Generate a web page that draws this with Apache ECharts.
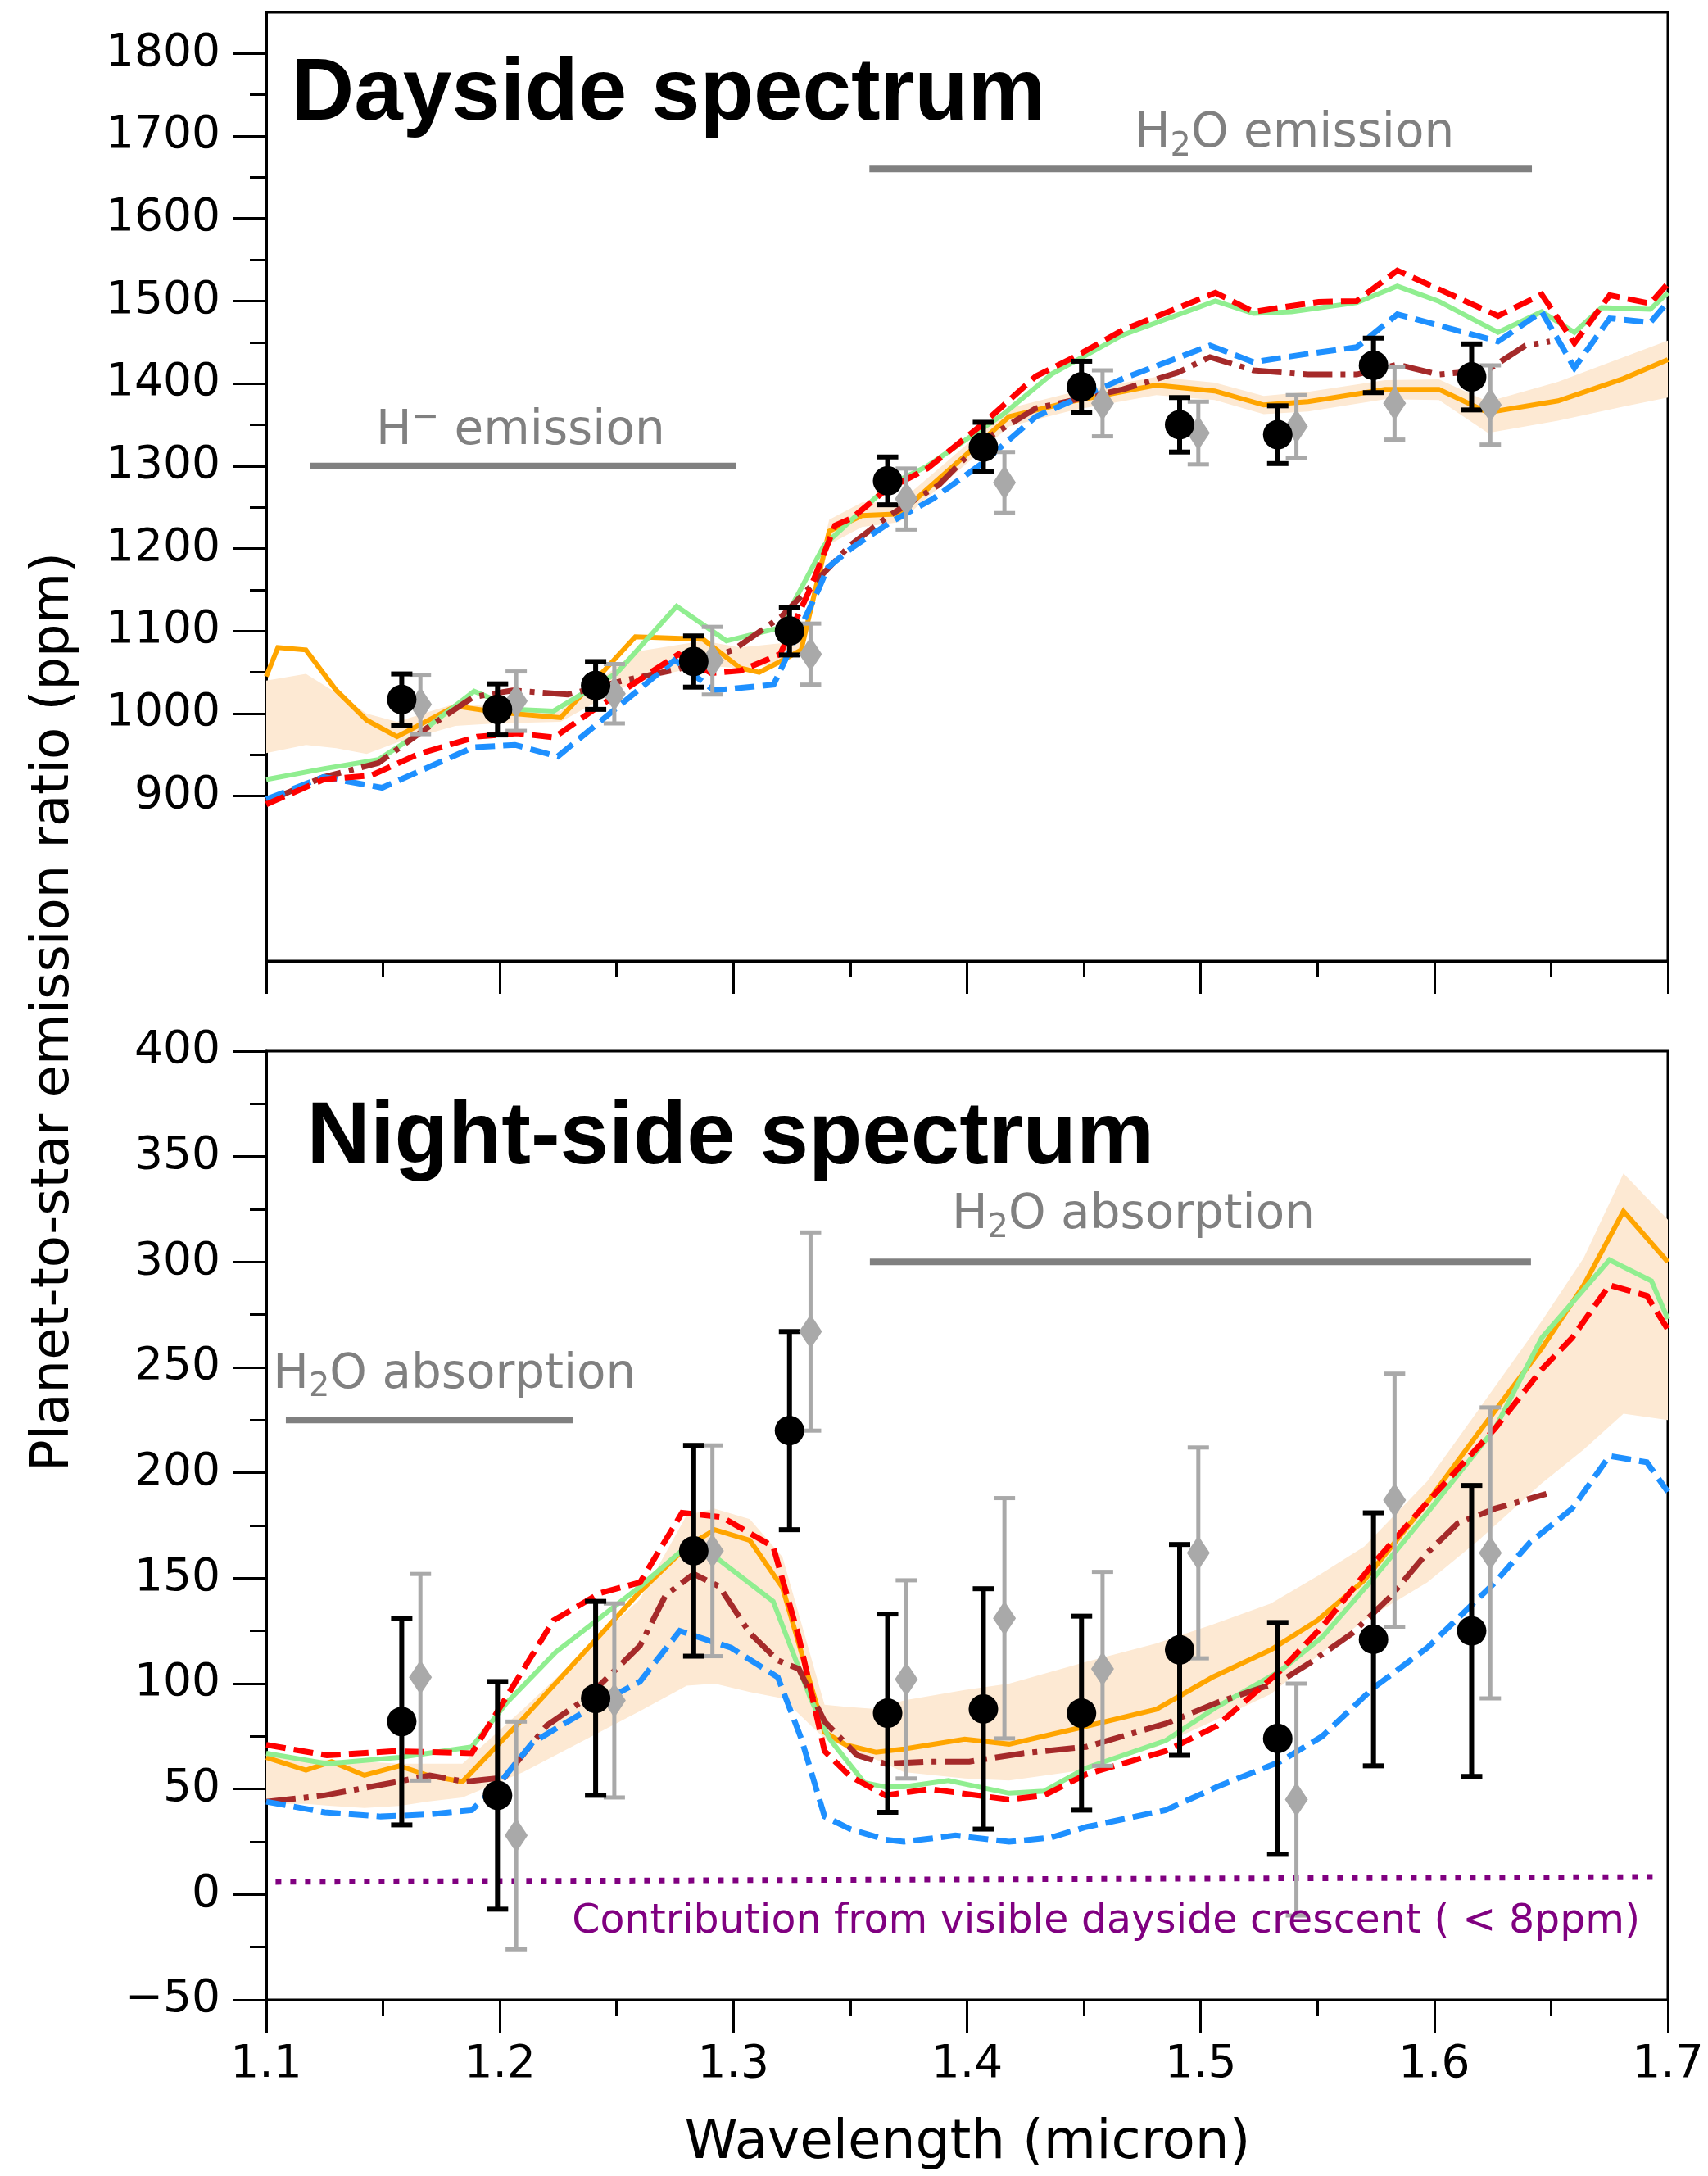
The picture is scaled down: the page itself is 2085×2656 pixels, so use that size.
<!DOCTYPE html>
<html>
<head>
<meta charset="utf-8">
<script src="https://cdn.jsdelivr.net/npm/echarts/dist/echarts.min.js"></script>
<style>
  html, body { margin: 0; padding: 0; background: #ffffff; }
  #chart { width: 2085px; height: 2656px; }
</style>
</head>
<body>
<div id="chart"></div>
<script>
// ---------- measured spectra (wavelength in micron, depth in ppm) ----------
const wavelength    = [1.158, 1.199, 1.241, 1.283, 1.324, 1.366, 1.407, 1.449, 1.491, 1.533, 1.574, 1.616];
const wavelengthAlt = [1.166, 1.207, 1.249, 1.291, 1.333, 1.374, 1.416, 1.458, 1.499, 1.541, 1.583, 1.624];

const dayMain    = [1017, 1005, 1034, 1063, 1100, 1282, 1323, 1396, 1350, 1338, 1422, 1408];
const dayMainErr = [31, 31, 29, 31, 29, 29, 30, 31, 33, 35, 33, 40];
const dayAlt     = [1011, 1015, 1024, 1064, 1072, 1260, 1280, 1376, 1340, 1348, 1376, 1374];
const dayAltErr  = [36, 36, 36, 41, 37, 37, 37, 40, 38, 38, 44, 48];

const nightMain    = [82, 47, 93, 163, 220, 86, 88, 86, 116, 74, 121, 125];
const nightMainErr = [49, 54, 46, 50, 47, 47, 57, 46, 50, 55, 60, 69];
const nightAlt     = [103, 28, 92, 163, 267, 102, 131, 107, 162, 45, 187, 162];
const nightAltErr  = [49, 54, 46, 50, 47, 47, 57, 46, 50, 55, 60, 69];

// ---------- dayside models ----------
const dayBestX = [1.100, 1.105, 1.117, 1.130, 1.143, 1.156, 1.181, 1.198, 1.226, 1.258, 1.287, 1.303, 1.311, 1.320, 1.329, 1.341, 1.355, 1.371, 1.418, 1.446, 1.481, 1.506, 1.527, 1.546, 1.579, 1.602, 1.623, 1.653, 1.681, 1.700];
const dayBestY = [1045, 1080, 1077, 1028, 992, 972, 1009, 1002, 995, 1093, 1090, 1055, 1050, 1063, 1077, 1221, 1240, 1242, 1360, 1379, 1398, 1391, 1374, 1378, 1393, 1393, 1365, 1379, 1406, 1429];

const dayRangeX  = [1.100, 1.117, 1.130, 1.143, 1.156, 1.181, 1.198, 1.226, 1.258, 1.287, 1.303, 1.320, 1.329, 1.341, 1.355, 1.371, 1.418, 1.446, 1.481, 1.506, 1.527, 1.546, 1.579, 1.602, 1.623, 1.653, 1.681, 1.700];
const dayRangeLo = [952, 962, 958, 951, 965, 985, 988, 990, 1040, 1058, 1055, 1060, 1075, 1205, 1226, 1232, 1348, 1368, 1386, 1380, 1363, 1366, 1381, 1380, 1340, 1355, 1372, 1383];
const dayRangeHi = [1040, 1048, 1025, 1000, 990, 1012, 1008, 1003, 1075, 1088, 1080, 1085, 1090, 1235, 1256, 1256, 1370, 1390, 1408, 1401, 1385, 1390, 1404, 1405, 1378, 1402, 1432, 1452];

const dayGreenX = [1.100, 1.1245, 1.148, 1.167, 1.189, 1.2075, 1.223, 1.250, 1.2757, 1.297, 1.320, 1.3388, 1.3667, 1.383, 1.4156, 1.4365, 1.4668, 1.5063, 1.5226, 1.5389, 1.5668, 1.5842, 1.6017, 1.6273, 1.646, 1.660, 1.6716, 1.6925, 1.700];
const dayGreenY = [920, 933, 944, 979, 1027, 1005, 1003, 1049, 1130, 1088, 1104, 1204, 1277, 1300, 1363, 1412, 1459, 1500, 1485, 1487, 1498, 1518, 1500, 1462, 1487, 1462, 1492, 1490, 1510];

const dayRedX = [1.100, 1.1245, 1.1449, 1.1653, 1.1903, 1.2075, 1.2232, 1.2389, 1.2765, 1.2905, 1.3031, 1.320, 1.3328, 1.3435, 1.3508, 1.3648, 1.383, 1.4063, 1.4295, 1.4459, 1.4668, 1.5063, 1.5226, 1.5505, 1.5668, 1.5842, 1.6273, 1.646, 1.660, 1.6751, 1.6925, 1.700];
const dayRedY = [890, 920, 925, 951, 972, 976, 971, 1002, 1072, 1049, 1052, 1072, 1151, 1228, 1237, 1270, 1297, 1350, 1409, 1432, 1465, 1510, 1487, 1499, 1500, 1537, 1482, 1508, 1449, 1507, 1497, 1521];

const dayBlueX = [1.100, 1.1245, 1.1496, 1.1887, 1.2065, 1.2248, 1.2749, 1.2916, 1.3172, 1.3365, 1.3404, 1.3508, 1.3667, 1.3853, 1.4063, 1.4295, 1.4668, 1.504, 1.5226, 1.5459, 1.5668, 1.5842, 1.6273, 1.646, 1.660, 1.6751, 1.6925, 1.700];
const dayBlueY = [896, 923, 910, 959, 962, 948, 1065, 1028, 1035, 1151, 1177, 1201, 1231, 1260, 1303, 1360, 1406, 1446, 1426, 1436, 1444, 1484, 1451, 1487, 1419, 1479, 1474, 1499];

const dayBrownX = [1.100, 1.1245, 1.148, 1.167, 1.1887, 1.2053, 1.2291, 1.2545, 1.2765, 1.2999, 1.3203, 1.3365, 1.350, 1.3667, 1.3879, 1.4063, 1.4295, 1.4668, 1.4899, 1.504, 1.5226, 1.5459, 1.5668, 1.5842, 1.6017, 1.6227, 1.639, 1.6495];
const dayBrownY = [893, 923, 940, 979, 1020, 1028, 1023, 1041, 1054, 1077, 1117, 1164, 1204, 1240, 1277, 1330, 1370, 1393, 1413, 1432, 1416, 1411, 1411, 1423, 1411, 1416, 1446, 1451];

// ---------- night-side models ----------
const nightBestX = [1.100, 1.117, 1.128, 1.142, 1.157, 1.169, 1.184, 1.210, 1.260, 1.280, 1.292, 1.307, 1.321, 1.339, 1.348, 1.361, 1.373, 1.399, 1.418, 1.450, 1.481, 1.505, 1.530, 1.550, 1.570, 1.597, 1.619, 1.646, 1.664, 1.681, 1.700];
const nightBestY = [65, 59, 63, 56.5, 61, 56.5, 53.5, 83.5, 143.6, 165, 173, 168, 145.5, 77, 71, 67.5, 69, 73.7, 71.3, 79.5, 87.8, 103, 116, 130, 149, 186, 219, 259, 289, 324, 300];
const nightRangeLo = [43, 43, 42, 41, 42, 44, 46, 58, 87, 99, 100, 96, 93, 74, 70, 64, 58, 55, 54, 59, 70, 82, 95, 113, 130, 148, 168, 195, 211, 228, 225];
const nightRangeHi = [66, 64, 64, 63, 62, 62, 62, 88, 140, 180, 183, 178, 160, 90, 89, 88, 92, 97, 100, 110, 119, 128, 138, 151, 165, 196, 230, 272, 302, 342, 320];

const nightGreenX = [1.100, 1.126, 1.157, 1.188, 1.203, 1.224, 1.260, 1.283, 1.317, 1.333, 1.341, 1.356, 1.365, 1.373, 1.392, 1.418, 1.433, 1.451, 1.485, 1.507, 1.534, 1.552, 1.574, 1.597, 1.626, 1.646, 1.675, 1.693, 1.700];
const nightGreenY = [67, 62, 65, 70, 91, 115, 146, 168, 139, 93, 74, 53, 51, 51, 54, 48, 49, 60, 73, 89, 106, 122, 150, 181, 221, 264, 301, 291, 273];

const nightRedX = [1.100, 1.126, 1.155, 1.188, 1.223, 1.243, 1.260, 1.278, 1.295, 1.317, 1.328, 1.339, 1.350, 1.365, 1.384, 1.418, 1.433, 1.451, 1.485, 1.507, 1.534, 1.552, 1.574, 1.597, 1.626, 1.646, 1.659, 1.675, 1.691, 1.700];
const nightRedY = [71, 66, 68, 67, 130, 143, 148, 181, 179, 165, 122, 68, 56, 47, 50, 45, 47, 57, 68, 80, 106, 127, 157, 186, 221, 249, 264, 289, 284, 268];

const nightBlueX = [1.100, 1.125, 1.149, 1.170, 1.188, 1.200, 1.214, 1.226, 1.243, 1.260, 1.277, 1.299, 1.319, 1.329, 1.339, 1.350, 1.365, 1.373, 1.395, 1.418, 1.436, 1.451, 1.485, 1.507, 1.534, 1.552, 1.574, 1.597, 1.626, 1.641, 1.659, 1.675, 1.691, 1.700];
const nightBlueY = [44, 39, 37, 38, 40, 53, 72, 80, 91, 101, 125, 117, 103, 74, 37, 31, 26, 25, 28, 25, 27, 32, 40, 51, 63, 75, 98, 117, 148, 167, 183, 208, 205, 191];

const nightBrownX = [1.100, 1.125, 1.154, 1.170, 1.185, 1.202, 1.220, 1.237, 1.260, 1.271, 1.283, 1.294, 1.307, 1.319, 1.328, 1.339, 1.353, 1.365, 1.384, 1.401, 1.424, 1.451, 1.485, 1.507, 1.534, 1.547, 1.565, 1.581, 1.597, 1.610, 1.626, 1.648];
const nightBrownY = [44, 47, 53, 56.5, 53.5, 55.5, 80, 93, 118, 142, 152, 146, 124, 111, 107, 82, 66, 62, 63, 63, 67, 70, 81, 91, 101, 110, 124, 141, 162, 176, 183, 190];

// crescent contribution (ppm) at the two ends of the band
const crescentX = [1.104, 1.696];
const crescentY = [6, 8.3];

// ---------- axis ticks ----------
const dayTickLabels = [900, 1000, 1100, 1200, 1300, 1400, 1500, 1600, 1700, 1800];
const dayMinorTicks = [950, 1050, 1150, 1250, 1350, 1450, 1550, 1650, 1750];

// ---------- feature bands and labels (data coordinates) ----------
const dayFeatureBars = [
  { x: [1.1186, 1.3011], y: 1300 },
  { x: [1.3582, 1.6418], y: 1660 }
];
const nightFeatureBars = [
  { x: [1.1084, 1.2314], y: 225 },
  { x: [1.3584, 1.6414], y: 300 }
];
// rich-text markup: {sub|..} subscript, {sup|..} superscript
const dayNotes = [
  { text: 'Dayside spectrum', x: 1.1105, y: 1749, kind: 'title' },
  { text: '{n|H}{sup|\u2212}{n| emission}', x: 1.147, y: 1342, kind: 'note' },
  { text: '{n|H}{sub|2}{n|O emission}', x: 1.4717, y: 1702, kind: 'note' }
];
const nightNotes = [
  { text: 'Night-side spectrum', x: 1.1174, y: 358.3, kind: 'title' },
  { text: '{n|H}{sub|2}{n|O absorption}', x: 1.1029, y: 246.3, kind: 'note' },
  { text: '{n|H}{sub|2}{n|O absorption}', x: 1.3935, y: 321.8, kind: 'note' },
  { text: 'Contribution from visible dayside crescent ( < 8ppm)', x: 1.2309, y: -13.2, kind: 'crescent' }
];

// ---------- styling ----------
const FONT = 'DejaVu Sans';
const C = {
  best: '#FFA500', range: '#FDE9D3', green: '#90EE90', red: '#FF0000',
  blue: '#1E90FF', brown: '#A52A2A', purple: '#800080', note: '#808080',
  main: '#000000', alt: '#A9A9A9'
};
const noteRich = {
  n:   { fontFamily: FONT, fontSize: 58, lineHeight: 71, color: C.note, verticalAlign: 'middle' },
  sub: { fontFamily: FONT, fontSize: 40, lineHeight: 40, color: C.note, verticalAlign: 'bottom' },
  sup: { fontFamily: FONT, fontSize: 40, lineHeight: 40, color: C.note, verticalAlign: 'top' }
};
const noteStyle = {
  title:    { font: 'bold 107px "Liberation Sans"', fill: '#000000' },
  note:     { font: '58px "DejaVu Sans"', fill: C.note, rich: noteRich },
  crescent: { font: '49px "DejaVu Sans"', fill: C.purple }
};

const zip = (xs, ys) => xs.map((x, i) => [x, ys[i]]);

function modelLine(xs, ys, color, dash, grid, z) {
  return {
    type: 'line', xAxisIndex: grid, yAxisIndex: grid, data: zip(xs, ys),
    showSymbol: false, symbol: 'none', silent: true, z: z,
    lineStyle: { color: color, width: dash === 'solid' ? 6 : 7, type: dash, cap: 'butt', join: 'miter' }
  };
}

function rangeBand(xs, lo, hi, grid) {
  return {
    type: 'custom', xAxisIndex: grid, yAxisIndex: grid, z: 1, silent: true,
    data: [[xs[0], lo[0]]],
    renderItem: function (params, api) {
      const pts = [];
      for (let i = 0; i < xs.length; i++) pts.push(api.coord([xs[i], lo[i]]));
      for (let i = xs.length - 1; i >= 0; i--) pts.push(api.coord([xs[i], hi[i]]));
      return { type: 'polygon', shape: { points: pts }, style: { fill: C.range } };
    }
  };
}

function errorBars(xs, ys, es, color, width, grid) {
  return {
    type: 'custom', xAxisIndex: grid, yAxisIndex: grid, z: 5, silent: true,
    data: xs.map((x, i) => [x, ys[i] - es[i], ys[i] + es[i]]),
    encode: { x: 0, y: [1, 2] },
    renderItem: function (params, api) {
      const lo = api.coord([api.value(0), api.value(1)]);
      const hi = api.coord([api.value(0), api.value(2)]);
      const half = 13;
      const st = { stroke: color, lineWidth: width };
      return {
        type: 'group', children: [
          { type: 'line', shape: { x1: lo[0], y1: lo[1], x2: hi[0], y2: hi[1] }, style: st },
          { type: 'line', shape: { x1: lo[0] - half, y1: lo[1], x2: lo[0] + half, y2: lo[1] }, style: st },
          { type: 'line', shape: { x1: hi[0] - half, y1: hi[1], x2: hi[0] + half, y2: hi[1] }, style: st }
        ]
      };
    }
  };
}

function markers(xs, ys, symbol, size, color, grid, z) {
  return {
    type: 'scatter', xAxisIndex: grid, yAxisIndex: grid, data: zip(xs, ys),
    symbol: symbol, symbolSize: size, z: z, silent: true,
    itemStyle: { color: color, opacity: 1 }
  };
}

function featureBars(bars, grid) {
  return bars.map(b => ({
    type: 'line', xAxisIndex: grid, yAxisIndex: grid, data: [[b.x[0], b.y], [b.x[1], b.y]],
    showSymbol: false, symbol: 'none', silent: true, z: 3,
    lineStyle: { color: C.note, width: 8, cap: 'butt' }
  }));
}

function notes(list, grid) {
  return {
    type: 'custom', xAxisIndex: grid, yAxisIndex: grid, z: 8, silent: true, clip: false,
    data: list.map(n => [n.x, n.y]),
    renderItem: function (params, api) {
      const n = list[params.dataIndex];
      const p = api.coord([n.x, n.y]);
      const s = noteStyle[n.kind];
      const style = {
        text: n.text, font: s.font, fill: s.fill,
        textAlign: 'left', textVerticalAlign: 'middle', align: 'left', verticalAlign: 'middle'
      };
      if (s.rich) style.rich = s.rich;
      return { type: 'text', x: p[0], y: p[1], style: style };
    }
  };
}

const axisLineStyle = { color: '#000000', width: 3 };
const tickLabel = { fontFamily: FONT, fontSize: 55, color: '#000000' };

function xAxisFor(grid, withLabels) {
  return {
    type: 'value', gridIndex: grid, min: 1.1, max: 1.7, interval: 0.1,
    axisLine: { show: true, onZero: false, lineStyle: axisLineStyle },
    axisTick: { show: true, inside: false, length: 40, lineStyle: axisLineStyle },
    minorTick: { show: true, splitNumber: 2, length: 20, lineStyle: axisLineStyle },
    splitLine: { show: false }, minorSplitLine: { show: false },
    axisLabel: Object.assign({ show: withLabels, margin: 52, formatter: v => v.toFixed(1) }, tickLabel)
  };
}

const option = {
  animation: false,
  backgroundColor: '#ffffff',
  grid: [
    { left: 325, right: 49, top: 15, height: 1158, show: true, borderColor: '#000000', borderWidth: 3, backgroundColor: 'transparent' },
    { left: 325, right: 49, top: 1283, height: 1158, show: true, borderColor: '#000000', borderWidth: 3, backgroundColor: 'transparent' }
  ],
  xAxis: [xAxisFor(0, false), xAxisFor(1, true)],
  yAxis: [
    {
      type: 'value', gridIndex: 0, min: 700, max: 1850, position: 'left',
      axisLine: { show: true, onZero: false, lineStyle: axisLineStyle },
      axisTick: { show: true, length: 40, customValues: dayTickLabels, lineStyle: axisLineStyle },
      axisLabel: Object.assign({ customValues: dayTickLabels, margin: 56, formatter: v => String(v) }, tickLabel),
      splitLine: { show: false }
    },
    {
      type: 'value', gridIndex: 1, min: -50, max: 400, interval: 50, position: 'left',
      axisLine: { show: true, onZero: false, lineStyle: axisLineStyle },
      axisTick: { show: true, length: 40, lineStyle: axisLineStyle },
      minorTick: { show: true, splitNumber: 2, length: 20, lineStyle: axisLineStyle },
      axisLabel: Object.assign({ margin: 56, formatter: v => (v < 0 ? '\u2212' + Math.abs(v) : String(v)) }, tickLabel),
      splitLine: { show: false }, minorSplitLine: { show: false }
    },
    {
      type: 'value', gridIndex: 0, min: 700, max: 1850, position: 'left', offset: 0,
      axisLine: { show: false },
      axisTick: { show: true, length: 20, customValues: dayMinorTicks, lineStyle: axisLineStyle },
      axisLabel: { show: false },
      splitLine: { show: false }
    }
  ],
  graphic: [
    {
      type: 'text', x: 66, y: 1235, rotation: Math.PI / 2, silent: true,
      style: { text: 'Planet-to-star emission ratio (ppm)', font: '64px "DejaVu Sans"', fill: '#000000',
               textAlign: 'center', textVerticalAlign: 'middle', align: 'center', verticalAlign: 'middle' }
    },
    {
      type: 'text', x: 1181, y: 2617, silent: true,
      style: { text: 'Wavelength (micron)', font: '66px "DejaVu Sans"', fill: '#000000',
               textAlign: 'center', textVerticalAlign: 'middle', align: 'center', verticalAlign: 'middle' }
    }
  ],
  series: [
    // dayside panel
    rangeBand(dayRangeX, dayRangeLo, dayRangeHi, 0),
    modelLine(dayBestX, dayBestY, C.best, 'solid', 0, 2),
    modelLine(dayGreenX, dayGreenY, C.green, 'solid', 0, 2),
    modelLine(dayBrownX, dayBrownY, C.brown, [36, 10, 6, 10], 0, 2),
    modelLine(dayBlueX, dayBlueY, C.blue, [24, 10], 0, 2),
    modelLine(dayRedX, dayRedY, C.red, [24, 10], 0, 2),
    ...featureBars(dayFeatureBars, 0),
    errorBars(wavelengthAlt, dayAlt, dayAltErr, C.alt, 5, 0),
    errorBars(wavelength, dayMain, dayMainErr, C.main, 6, 0),
    markers(wavelengthAlt, dayAlt, 'diamond', [28, 42], C.alt, 0, 6),
    markers(wavelength, dayMain, 'circle', 36, C.main, 0, 7),
    notes(dayNotes, 0),

    // night-side panel
    rangeBand(nightBestX, nightRangeLo, nightRangeHi, 1),
    modelLine(nightBestX, nightBestY, C.best, 'solid', 1, 2),
    modelLine(nightGreenX, nightGreenY, C.green, 'solid', 1, 2),
    modelLine(nightBrownX, nightBrownY, C.brown, [36, 10, 6, 10], 1, 2),
    modelLine(nightBlueX, nightBlueY, C.blue, [24, 10], 1, 2),
    modelLine(nightRedX, nightRedY, C.red, [24, 10], 1, 2),
    {
      type: 'line', xAxisIndex: 1, yAxisIndex: 1, data: zip(crescentX, crescentY),
      showSymbol: false, symbol: 'none', silent: true, z: 3,
      lineStyle: { color: C.purple, width: 7, type: [7, 11], cap: 'butt' }
    },
    ...featureBars(nightFeatureBars, 1),
    errorBars(wavelengthAlt, nightAlt, nightAltErr, C.alt, 5, 1),
    errorBars(wavelength, nightMain, nightMainErr, C.main, 6, 1),
    markers(wavelengthAlt, nightAlt, 'diamond', [28, 42], C.alt, 1, 6),
    markers(wavelength, nightMain, 'circle', 36, C.main, 1, 7),
    notes(nightNotes, 1)
  ]
};

const chart = echarts.init(document.getElementById('chart'), null, { renderer: 'canvas', width: 2085, height: 2656 });
chart.setOption(option);
</script>
</body>
</html>
